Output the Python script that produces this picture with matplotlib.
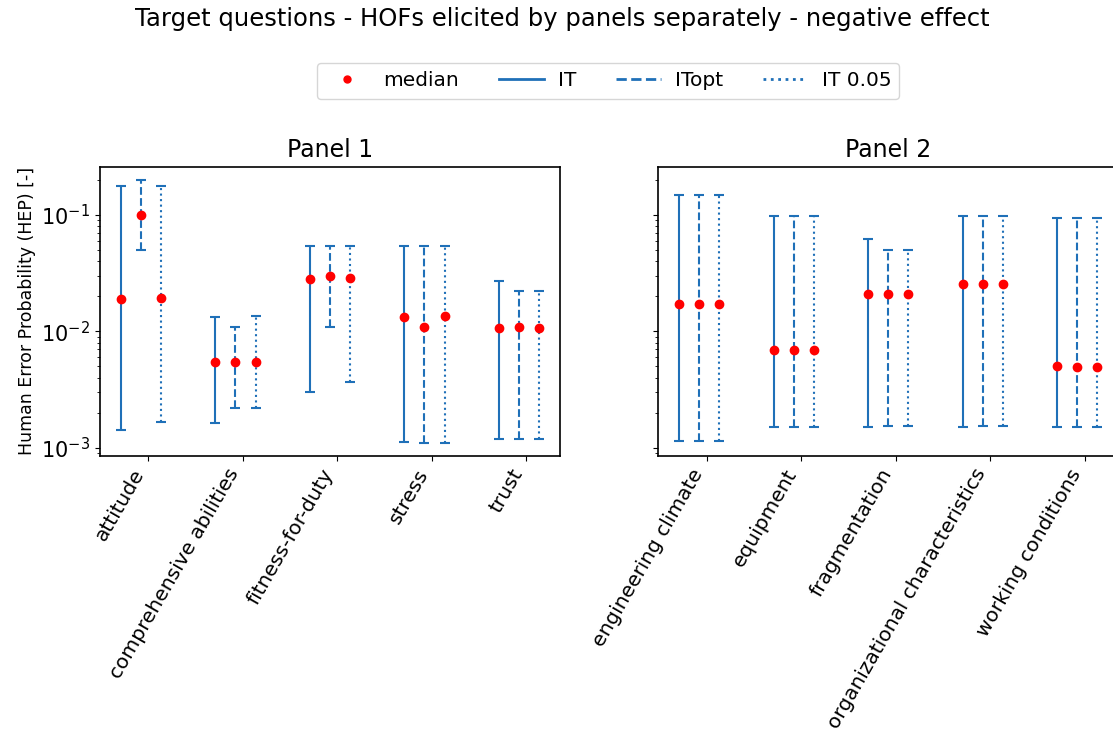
import numpy as np
import matplotlib
matplotlib.use("Agg")
import matplotlib.pyplot as plt
from matplotlib.lines import Line2D

# ---- data ----
panel1_labels = ["attitude", "comprehensive abilities", "fitness-for-duty", "stress", "trust"]
panel2_labels = ["engineering climate", "equipment", "fragmentation",
                 "organizational characteristics", "working conditions"]

# Panel 1: median, lower, upper for IT, ITopt, IT 0.05
p1_it_med = [0.0189, 0.00542, 0.0283, 0.01328, 0.0107]
p1_it_lo = [0.00141, 0.00164, 0.0030, 0.001125, 0.0012]
p1_it_hi = [0.177, 0.0132, 0.0546, 0.0542, 0.027]

p1_opt_med = [0.100, 0.0055, 0.0298, 0.0110, 0.0110]
p1_opt_lo = [0.050, 0.0022, 0.01096, 0.00111, 0.0012]
p1_opt_hi = [0.200, 0.0110, 0.0546, 0.0546, 0.022]

p1_05_med = [0.0193, 0.0055, 0.0288, 0.01345, 0.0107]
p1_05_lo = [0.00166, 0.0022, 0.00368, 0.00111, 0.0012]
p1_05_hi = [0.178, 0.01345, 0.0546, 0.0542, 0.022]

# Panel 2
p2_it_med = [0.01725, 0.00692, 0.0209, 0.0256, 0.00508]
p2_it_lo = [0.001156, 0.00152, 0.00152, 0.00152, 0.00152]
p2_it_hi = [0.149, 0.098, 0.0615, 0.0987, 0.094]

p2_opt_med = [0.0172, 0.00690, 0.0210, 0.0256, 0.00497]
p2_opt_lo = [0.001156, 0.00152, 0.00154, 0.00154, 0.00152]
p2_opt_hi = [0.149, 0.098, 0.050, 0.0987, 0.094]

p2_05_med = [0.0172, 0.00690, 0.0210, 0.0256, 0.00497]
p2_05_lo = [0.001156, 0.00152, 0.00154, 0.00154, 0.00152]
p2_05_hi = [0.149, 0.098, 0.050, 0.0987, 0.094]

series_names = ["IT", "ITopt", "IT 0.05"]
offsets = [-0.29, -0.08, 0.135]
styles = ["-", "--", ":"]

BLUE = "#1f70b8"
W, H = 1113, 740
fig = plt.figure(figsize=(W / 100, H / 100), dpi=100)

ax_w = 460 / W
ax_b = 1 - 455.7 / H
ax_h = (455.7 - 166.7) / H
ax1 = fig.add_axes([100 / W, ax_b, ax_w, ax_h])
ax2 = fig.add_axes([658.3 / W, ax_b, ax_w, ax_h], sharey=ax1)


def draw(ax, labels, meds, los, his, title):
    x = np.arange(len(labels))
    for off, ls, med, lo, hi in zip(offsets, styles, meds, los, his):
        med = np.array(med)
        lo = np.array(lo)
        hi = np.array(hi)
        eb = ax.errorbar(x + off, med, yerr=[med - lo, hi - med], fmt="none",
                         ecolor=BLUE, elinewidth=1.5, capsize=3.8, capthick=1.5)
        for lc in eb[2]:
            lc.set_linestyle(ls)
        ax.plot(x + off, med, "o", color="red", markersize=6, zorder=5)
    ax.set_yscale("log")
    ax.set_xticks(x)
    ax.set_xticklabels(labels, rotation=60, ha="right", fontsize=14.5)
    ax.set_title(title, fontsize=17, pad=7)
    ax.tick_params(axis="y", labelsize=15)
    for s in ax.spines.values():
        s.set_linewidth(1.2)


draw(ax1, panel1_labels, [p1_it_med, p1_opt_med, p1_05_med],
     [p1_it_lo, p1_opt_lo, p1_05_lo], [p1_it_hi, p1_opt_hi, p1_05_hi], "Panel 1")
draw(ax2, panel2_labels, [p2_it_med, p2_opt_med, p2_05_med],
     [p2_it_lo, p2_opt_lo, p2_05_lo], [p2_it_hi, p2_opt_hi, p2_05_hi], "Panel 2")
plt.setp(ax2.get_yticklabels(), visible=False)
ax1.set_ylabel("Human Error Probability (HEP) [-]", fontsize=12.5)

handles = [Line2D([], [], marker="o", color="red", ls="none", markersize=5)]
for ls in styles:
    handles.append(Line2D([], [], color=BLUE, ls=ls, lw=2))
fig.legend(handles, ["median"] + series_names, loc="center", ncol=4,
           bbox_to_anchor=(608 / W, 1 - 81 / H), fontsize=14.5,
           columnspacing=2.0, handlelength=2.2, handletextpad=0.7)
fig.suptitle("Target questions - HOFs elicited by panels separately - negative effect",
             fontsize=17.5, x=562 / W, y=1 - 19 / H, va="center")

fig.savefig("out.png", dpi=100)
